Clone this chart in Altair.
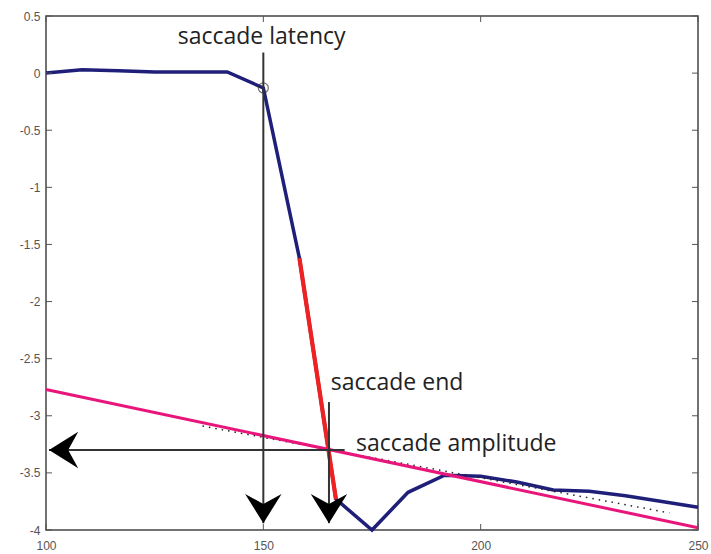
import altair as alt
import pandas as pd

# Eye position trace (time in ms, position in deg)
t = [100, 108.3, 116.7, 125, 133.3, 141.7, 150, 158.3, 166.7, 175, 183.3, 191.7,
     200, 208.3, 216.7, 225, 233.3, 241.7, 250]
pos = [0.0, 0.03, 0.02, 0.01, 0.01, 0.01, -0.13, -1.62, -3.73, -4.0, -3.67, -3.52,
       -3.53, -3.58, -3.65, -3.66, -3.70, -3.75, -3.80]
# Saccade segment (red)
sac_t = [158.3, 166.7]
sac_pos = [-1.62, -3.73]
# Linear fit (pink)
fit_t = [100, 250]
fit_pos = [-2.77, -3.98]
# Dotted fit
dot_t = [136, 243.4]
dot_pos = [-3.09, -3.85]
# Saccade onset marker
onset_t = [150]
onset_pos = [-0.13]

# Annotation arrows: start -> tip
arr_x1 = [150, 165.1, 168.7]
arr_y1 = [0.18, -2.88, -3.30]
arr_x2 = [150, 165.1, 100.7]
arr_y2 = [-3.94, -3.94, -3.30]
arr_dir = ["down", "down", "left"]

# Labels
lab_text = ["saccade latency", "saccade end", "saccade amplitude"]
lab_x = [130.3, 165.5, 171.3]
lab_y = [0.316, -2.71, -3.25]

x_ticks = [100, 150, 200, 250]
y_ticks = [0.5, 0, -0.5, -1, -1.5, -2, -2.5, -3, -3.5, -4]

W, H = 652, 514

xs = alt.Scale(domain=[100, 250], nice=False, zero=False)
ys = alt.Scale(domain=[-4, 0.5], nice=False, zero=False)

trace = pd.DataFrame({"t": t, "pos": pos})
sac = pd.DataFrame({"t": sac_t, "pos": sac_pos})
fit = pd.DataFrame({"t": fit_t, "pos": fit_pos})
dot = pd.DataFrame({"t": dot_t, "pos": dot_pos})
onset = pd.DataFrame({"t": onset_t, "pos": onset_pos})
arr = pd.DataFrame({"x1": arr_x1, "y1": arr_y1, "x2": arr_x2, "y2": arr_y2, "dir": arr_dir})
labs = pd.DataFrame({"text": lab_text, "x": lab_x, "y": lab_y})
xt = pd.DataFrame({"v": x_ticks})
yt = pd.DataFrame({"v": y_ticks})

xaxis = alt.Axis(values=x_ticks, labelExpr="toString(datum.value)", title=None,
                 ticks=False, domain=False, grid=False, labelPadding=10,
                 labelFontSize=12, labelColor="#555", labelFont="Liberation Sans",
                 labelFlush=False, labelOverlap=False)
yaxis = alt.Axis(values=y_ticks, labelExpr="toString(datum.value)", title=None,
                 ticks=False, domain=False, grid=False, labelPadding=6,
                 labelFontSize=12, labelColor="#555", labelFont="Liberation Sans",
                 labelFlush=False, labelOverlap=False)

base_line = alt.Chart(trace).mark_line(color="#1f1f7a", strokeWidth=3.5).encode(
    x=alt.X("t:Q", scale=xs, axis=xaxis),
    y=alt.Y("pos:Q", scale=ys, axis=yaxis),
)
sac_line = alt.Chart(sac).mark_line(color="#ee2222", strokeWidth=4.2).encode(
    x=alt.X("t:Q", scale=xs), y=alt.Y("pos:Q", scale=ys))
dot_line = alt.Chart(dot).mark_line(color="#222", strokeWidth=1.5, strokeDash=[1.5, 5]).encode(
    x=alt.X("t:Q", scale=xs), y=alt.Y("pos:Q", scale=ys))
fit_line = alt.Chart(fit).mark_line(color="#e8157a", strokeWidth=3).encode(
    x=alt.X("t:Q", scale=xs), y=alt.Y("pos:Q", scale=ys))
onset_pt = alt.Chart(onset).mark_point(shape="circle", size=100, color="#333",
                                       strokeWidth=1.2, filled=False).encode(
    x=alt.X("t:Q", scale=xs), y=alt.Y("pos:Q", scale=ys))

arrow_lines = alt.Chart(arr).mark_rule(color="#333", strokeWidth=2).encode(
    x=alt.X("x1:Q", scale=xs), y=alt.Y("y1:Q", scale=ys),
    x2="x2:Q", y2="y2:Q")

down_head = alt.Chart(arr).transform_filter(alt.datum.dir == "down").mark_point(
    shape="M0,0 L-1,-1.6 L0,-1.05 L1,-1.6 Z", filled=True, size=1330, color="#000",
    opacity=1).encode(x=alt.X("x2:Q", scale=xs), y=alt.Y("y2:Q", scale=ys))
left_head = alt.Chart(arr).transform_filter(alt.datum.dir == "left").mark_point(
    shape="M0,0 L1.6,-1 L1.05,0 L1.6,1 Z", filled=True, size=1330, color="#000",
    opacity=1).encode(x=alt.X("x2:Q", scale=xs), y=alt.Y("y2:Q", scale=ys))

texts = alt.Chart(labs).mark_text(align="left", baseline="middle", fontSize=23,
                                  font="Open Sans", color="#222").encode(
    x=alt.X("x:Q", scale=xs), y=alt.Y("y:Q", scale=ys), text="text:N")

tick_color = "#555"
ytick_l = alt.Chart(yt).mark_rule(color=tick_color, strokeWidth=1).encode(
    y=alt.Y("v:Q", scale=ys), x=alt.value(0), x2=alt.value(6))
ytick_r = alt.Chart(yt).mark_rule(color=tick_color, strokeWidth=1).encode(
    y=alt.Y("v:Q", scale=ys), x=alt.value(W - 6), x2=alt.value(W))
xtick_b = alt.Chart(xt).mark_rule(color=tick_color, strokeWidth=1).encode(
    x=alt.X("v:Q", scale=xs), y=alt.value(H - 6), y2=alt.value(H))
xtick_t = alt.Chart(xt).mark_rule(color=tick_color, strokeWidth=1).encode(
    x=alt.X("v:Q", scale=xs), y=alt.value(0), y2=alt.value(6))

chart = alt.layer(
    base_line, sac_line, dot_line, fit_line, onset_pt,
    ytick_l, ytick_r, xtick_b, xtick_t,
    arrow_lines, down_head, left_head, texts,
).properties(
    width=W, height=H,
    autosize=alt.AutoSizeParams(type="none"),
    padding={"left": 46, "top": 16, "right": 13, "bottom": 24},
    background="white",
).configure_view(stroke="#444", strokeWidth=1.5)

chart.save("out.html", embed_options={"renderer": "svg", "actions": False})
